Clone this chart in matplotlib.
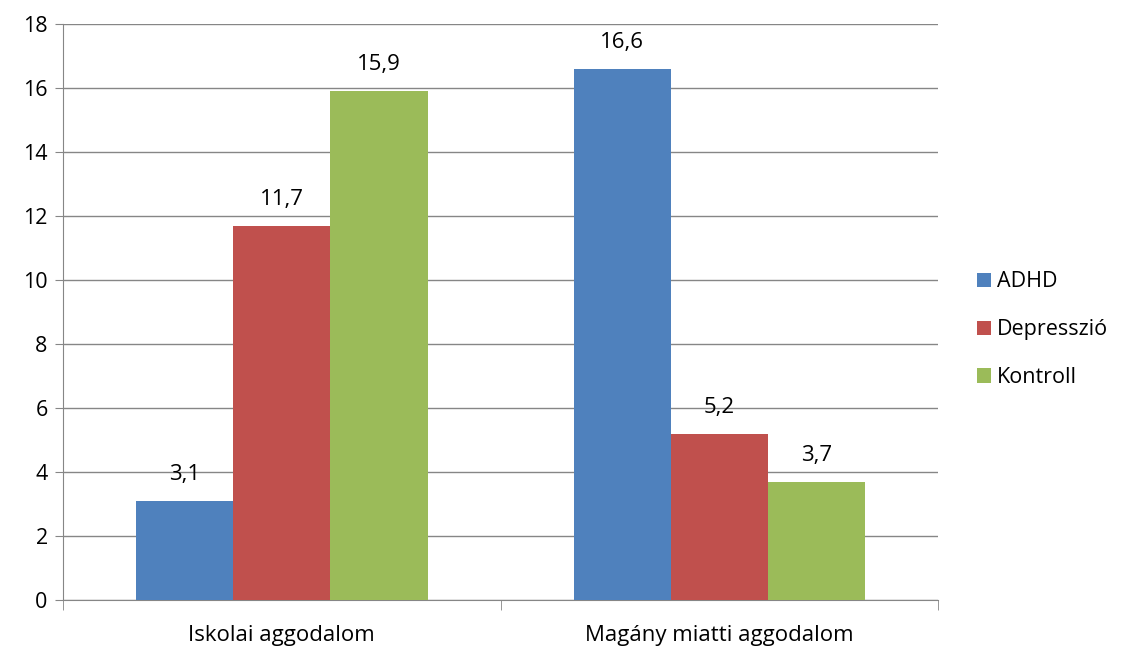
import matplotlib.pyplot as plt
import numpy as np

categories = ['Iskolai aggodalom', 'Magány miatti aggodalom']
series = ['ADHD', 'Depresszió', 'Kontroll']
adhd = [3.1, 16.6]
depresszio = [11.7, 5.2]
kontroll = [15.9, 3.7]
colors = ['#4F81BD', '#C0504D', '#9BBB59']

plt.rcParams['font.family'] = ['Open Sans', 'DejaVu Sans']

fig = plt.figure(figsize=(11.25, 6.46), dpi=100)
ax = fig.add_axes([0.056, 0.0712, 0.778, 0.8918])

x = np.arange(len(categories))
w = 0.222
for i, (name, vals) in enumerate(zip(series, [adhd, depresszio, kontroll])):
    bars = ax.bar(x + (i - 1) * w, vals, w, color=colors[i], label=name, zorder=3)
    for b, v in zip(bars, vals):
        ax.text(b.get_x() + b.get_width() / 2, v + 0.5, f'{v:.1f}'.replace('.', ','),
                ha='center', va='bottom', fontsize=16)

ax.set_xlim(-0.5, 1.5)
ax.set_ylim(0, 18)
ax.set_yticks(range(0, 19, 2))
ax.set_xticks(x)
ax.set_xticklabels(categories, fontsize=16)
ax.tick_params(axis='x', length=0, pad=18)
ax.set_xticks([-0.5, 0.5, 1.5], minor=True)
ax.tick_params(axis='x', which='minor', length=7, color='#868686', direction='out')
ax.tick_params(axis='y', labelsize=15.5, length=6, color='#868686', pad=5)
ax.grid(axis='y', color='#868686', linewidth=1, zorder=0)
for s in ['top', 'right']:
    ax.spines[s].set_visible(False)
ax.spines['left'].set_color('#868686')
ax.spines['bottom'].set_color('#868686')

ax.legend(loc='center left', bbox_to_anchor=(1.044, 0.469), frameon=False, fontsize=15.5,
          borderaxespad=0, borderpad=0, handlelength=0.65, handleheight=0.65,
          labelspacing=1.25, handletextpad=0.3)

fig.savefig('out.png', dpi=100)
